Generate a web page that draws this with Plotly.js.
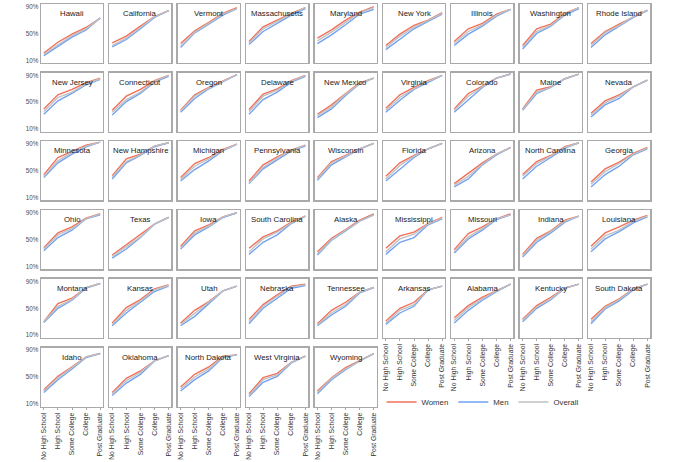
<!DOCTYPE html>
<html>
<head>
<meta charset="utf-8">
<script src="https://cdn.plot.ly/plotly-3.0.1.min.js"></script>
<style>
  html, body { margin: 0; padding: 0; background: #fff; }
  #chart { width: 690px; height: 462px; }
</style>
</head>
<body>
<div id="chart"></div>
<script>
const states = [
  'Hawaii', 'California', 'Vermont', 'Massachusetts', 'Maryland', 'New York', 'Illinois', 'Washington', 'Rhode Island',
  'New Jersey', 'Connecticut', 'Oregon', 'Delaware', 'New Mexico', 'Virginia', 'Colorado', 'Maine', 'Nevada',
  'Minnesota', 'New Hampshire', 'Michigan', 'Pennsylvania', 'Wisconsin', 'Florida', 'Arizona', 'North Carolina', 'Georgia',
  'Ohio', 'Texas', 'Iowa', 'South Carolina', 'Alaska', 'Mississippi', 'Missouri', 'Indiana', 'Louisiana',
  'Montana', 'Kansas', 'Utah', 'Nebraska', 'Tennessee', 'Arkansas', 'Alabama', 'Kentucky', 'South Dakota',
  'Idaho', 'Oklahoma', 'North Dakota', 'West Virginia', 'Wyoming',
];

const levels = ['No High School', 'High School', 'Some College', 'College', 'Post Graduate'];

const yTickVals = [10, 50, 90];
const yTickText = ['10%', '50%', '90%'];

// one row of 5 values per state, same order as `states`
const women = [
  [21, 37, 49, 59, 73], [36, 46, 61, 75, 84], [35, 54, 66.5, 80, 88.5], [38, 60, 70, 80, 88.5], [43, 55.5, 70, 82, 90],
  [32, 49, 62, 70, 81], [38, 57, 65, 79, 86], [32, 57, 64, 80, 88.5], [35, 53, 64, 75, 85],
  [40, 61, 69, 79, 86], [38, 59, 69, 82, 90], [38, 61, 72, 81, 91], [39, 62, 70, 82, 90], [32, 46, 63, 79, 86],
  [41, 61, 72, 82, 90], [40, 63, 74, 86, 92], [40, 68, 73, 85, 92], [33.5, 52, 61, 73, 83],
  [44.5, 70, 79, 88.5, 93], [43, 68, 75, 87, 92], [40, 61, 70, 82, 90], [35, 59, 71, 81, 88.5], [40, 64, 73, 83, 91],
  [42, 62, 73, 83, 91], [31, 46, 62, 75, 85], [44.5, 64, 73, 86, 92], [33.5, 53, 63, 76, 85],
  [38, 60, 69, 82, 88.5], [27, 42, 57, 73, 83], [40, 63, 72, 84, 90], [37, 54, 63, 76, 85], [32, 52, 65, 79, 88.5],
  [37, 55.5, 61, 74, 83], [35, 59, 69, 81, 88.5], [28, 52, 63, 79, 85], [40, 60, 69, 79, 86],
  [30, 57, 65, 81, 87], [28, 51, 63, 79, 85], [28, 47, 60, 76, 83], [33.5, 55.5, 70, 83, 86], [27, 47, 59, 74, 81],
  [31, 50, 59, 77.5, 83], [36, 54, 66.5, 76, 86], [33.5, 54, 66.5, 80, 86], [33.5, 53, 64, 79, 86],
  [31, 51, 65, 80, 85], [27, 48, 59, 74, 82], [35, 54, 65, 81, 83], [25, 49, 55.5, 72, 81], [29, 49, 64, 74, 85],
];

const men = [
  [17, 31, 44.5, 55.5, 73], [30, 41, 57, 74, 84], [29, 51, 64, 77.5, 87], [33.5, 53, 65, 77.5, 87], [35, 48, 63, 79, 86],
  [26, 42, 57, 68, 79], [32, 49, 61, 76, 86], [27, 50, 61, 77.5, 87], [29, 48, 61, 74, 84],
  [32, 52, 63, 76, 84], [31, 51, 63, 80, 88.5], [35, 55.5, 70, 81, 91], [32, 54, 65, 80, 88.5], [27, 40, 60, 77.5, 86],
  [35, 53, 69, 80, 90], [35, 54, 72, 86, 92], [38, 63, 72, 85, 92], [28, 46, 55.5, 73, 83],
  [40, 62, 75, 86, 93], [38, 62, 73, 86, 92], [35, 52, 65, 80, 90], [31, 53, 66.5, 80, 87], [36, 59, 71, 83, 91],
  [35, 53, 70, 83, 91], [26, 38, 59, 74, 85], [38, 57, 70, 84, 92], [26, 44.5, 57, 74, 83],
  [33.5, 53, 64, 81, 87], [22.5, 36, 53, 73, 83], [36, 57, 69, 83, 90], [28, 46, 57, 74, 85], [27, 49, 63, 77.5, 87],
  [28, 46, 53, 72, 81], [30, 51, 64, 80, 87], [24, 46, 60, 76, 85], [32, 51, 62, 75, 84],
  [29, 50, 62, 80, 87], [24, 43, 59, 75, 83], [24, 38, 57, 76, 83], [27, 50, 65, 80, 84], [24, 40, 53, 73, 81],
  [26, 43, 53, 77.5, 83], [28, 47, 62, 75, 86], [30, 50, 63, 80, 86], [27, 49, 61, 77.5, 86],
  [27, 46, 62, 79, 85], [22.5, 41, 54, 74, 82], [29, 46, 59, 79, 83], [21, 42, 51, 71, 81], [25, 46, 61, 74, 85],
];

const overall = [
  [19, 33.5, 47, 57, 73], [32, 43, 59, 75, 84], [31, 52, 65, 79, 87], [36, 57, 68, 79, 88.5], [39, 52, 66.5, 81, 88.5],
  [29, 46, 59, 69, 80], [35, 53, 63, 77.5, 86], [30, 53, 62, 79, 88.5], [32, 51, 62, 75, 85],
  [36, 57, 65, 77.5, 85], [35, 54, 65, 81, 90], [37, 59, 71, 81, 91], [36, 59, 68, 81, 90], [30, 43, 62, 77.5, 86],
  [38, 57, 70, 81, 90], [38, 59, 73, 86, 92], [39, 65, 72, 85, 92], [31, 49, 59, 73, 83],
  [42, 65, 77.5, 87, 93], [41, 64, 74, 87, 92], [37, 57, 68, 81, 90], [32, 55.5, 69, 81, 88.5], [38, 62, 72, 83, 91],
  [38, 58, 72, 83, 91], [28, 42, 60, 75, 85], [42, 61, 72, 85, 92], [30, 49, 61, 75, 84],
  [36, 57, 66.5, 81, 88.5], [25, 39, 54, 73, 83], [38, 60, 70, 84, 90], [32, 51, 61, 75, 85], [29, 50, 64, 77.5, 87],
  [32, 51, 58, 73, 82], [32, 54, 66.5, 81, 87], [26, 49, 62, 77.5, 85], [36, 55.5, 64, 77.5, 85],
  [30, 53, 63, 81, 87], [26, 47, 61, 77.5, 84], [26, 42, 59, 76, 83], [30, 53, 68, 82, 85], [25, 43, 55.5, 74, 81],
  [28, 47, 55.5, 77.5, 83], [32, 51, 64, 76, 86], [32, 52, 64, 80, 86], [30, 51, 63, 79, 86],
  [29, 49, 64, 80, 85], [25, 44.5, 57, 74, 82], [32, 50, 62, 80, 83], [22.5, 46, 53, 72, 81], [27, 48, 62, 74, 85],
];

const series = [
  { name: 'Women',   values: women,   color: '#f2705a' },
  { name: 'Men',     values: men,     color: '#72a2f2' },
  { name: 'Overall', values: overall, color: '#c0c0c0' },
];

// panel grid, in pixels of the 690x462 page
const W = 690, H = 462;
const NCOL = 9;
const PANEL_LEFT = 41, PANEL_TOP = 4;
const PANEL_W = 62, PANEL_H = 59;
const STEP_X = 68.4, STEP_Y = 68.7;

const FONT = 'Liberation Sans, Arial, Helvetica, sans-serif';

const traces = [];
const layout = {
  width: W,
  height: H,
  margin: { l: 0, r: 0, t: 0, b: 0 },
  paper_bgcolor: '#fff',
  plot_bgcolor: '#fff',
  font: { family: FONT, size: 7, color: '#333' },
  showlegend: true,
  legend: {
    orientation: 'h',
    x: 0.553, xanchor: 'left',
    y: 1 - 402 / H, yanchor: 'middle',
    font: { family: FONT, size: 7.8, color: '#333' },
    bgcolor: 'rgba(0,0,0,0)',
    itemwidth: 30,
  },
  annotations: [],
};

const nStates = states.length;
const lastRow = Math.floor((nStates - 1) / NCOL);

states.forEach((state, i) => {
  const row = Math.floor(i / NCOL);
  const col = i % NCOL;
  const k = i + 1;
  const xName = k === 1 ? 'xaxis' : 'xaxis' + k;
  const yName = k === 1 ? 'yaxis' : 'yaxis' + k;

  // bottom panel of each column carries the category labels
  const bottomRow = (lastRow * NCOL + col < nStates) ? lastRow : lastRow - 1;
  const isBottom = row === bottomRow;

  const left = PANEL_LEFT + col * STEP_X;
  const top = PANEL_TOP + row * STEP_Y;

  layout[xName] = {
    domain: [left / W, (left + PANEL_W) / W],
    anchor: 'y' + k,
    range: [-0.2, 4.2],
    tickvals: [0, 1, 2, 3, 4],
    ticktext: levels,
    showticklabels: isBottom,
    tickangle: -90,
    ticks: isBottom ? 'outside' : '',
    ticklen: 2,
    tickcolor: '#aaaaaa',
    tickfont: { family: FONT, size: 6.8, color: '#333' },
    showgrid: false,
    zeroline: false,
    showline: true,
    mirror: true,
    linecolor: '#aaaaaa',
    linewidth: 1.4,
    fixedrange: true,
  };
  layout[yName] = {
    domain: [1 - (top + PANEL_H) / H, 1 - top / H],
    anchor: 'x' + k,
    range: [6, 94],
    tickvals: yTickVals,
    ticktext: yTickText,
    showticklabels: col === 0,
    ticks: '',
    tickfont: { family: FONT, size: 6.3, color: '#4d4d4d' },
    showgrid: false,
    zeroline: false,
    showline: true,
    mirror: true,
    linecolor: '#aaaaaa',
    linewidth: 1.4,
    fixedrange: true,
  };

  series.forEach(s => {
    traces.push({
      type: 'scatter',
      mode: 'lines',
      x: [0, 1, 2, 3, 4],
      y: s.values[i],
      xaxis: 'x' + k,
      yaxis: 'y' + k,
      name: s.name,
      legendgroup: s.name,
      showlegend: i === 0,
      line: { color: s.color, width: 1.4 },
      hoverinfo: 'skip',
    });
  });

  layout.annotations.push({
    text: state,
    xref: 'x' + k + ' domain',
    yref: 'y' + k + ' domain',
    x: 0.5, y: 1,
    xanchor: 'center', yanchor: 'top',
    yshift: -3,
    showarrow: false,
    font: { family: FONT, size: 7.8, color: '#1a1a1a' },
  });
});

Plotly.newPlot('chart', traces, layout, { staticPlot: true, displayModeBar: false });
</script>
</body>
</html>
